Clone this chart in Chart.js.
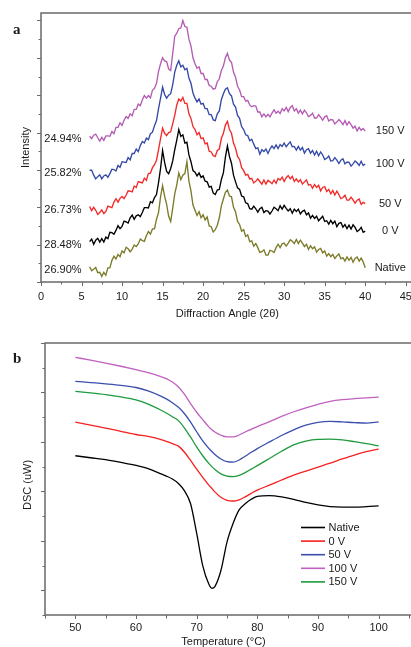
<!DOCTYPE html>
<html><head><meta charset="utf-8">
<script src="https://cdn.jsdelivr.net/npm/chart.js@4.4.1/dist/chart.umd.min.js"></script>
<style>
html,body{margin:0;padding:0;background:#fff;overflow:hidden;width:411px;height:647px;}
#wa{position:absolute;left:0;top:0;width:420px;height:325px;}
#wb{position:absolute;left:0;top:325px;width:420px;height:322px;}
</style></head><body>
<div id="wa"><canvas id="ca" width="420" height="325"></canvas></div>
<div id="wb"><canvas id="cb" width="420" height="322"></canvas></div>
<script>
// ---------- (a) XRD ----------
const angles = [6,6.25,6.5,6.75,7,7.25,7.5,7.75,8,8.25,8.5,8.75,9,9.25,9.5,9.75,10,10.25,10.5,10.75,11,11.25,11.5,11.75,12,12.25,12.5,12.75,13,13.25,13.5,13.75,14,14.25,14.5,14.75,15,15.25,15.5,15.75,16,16.25,16.5,16.75,17,17.25,17.5,17.75,18,18.25,18.5,18.75,19,19.25,19.5,19.75,20,20.25,20.5,20.75,21,21.25,21.5,21.75,22,22.25,22.5,22.75,23,23.25,23.5,23.75,24,24.25,24.5,24.75,25,25.25,25.5,25.75,26,26.25,26.5,26.75,27,27.25,27.5,27.75,28,28.25,28.5,28.75,29,29.25,29.5,29.75,30,30.25,30.5,30.75,31,31.25,31.5,31.75,32,32.25,32.5,32.75,33,33.25,33.5,33.75,34,34.25,34.5,34.75,35,35.25,35.5,35.75,36,36.25,36.5,36.75,37,37.25,37.5,37.75,38,38.25,38.5,38.75,39,39.25,39.5,39.75,40];

const xrdNative = [0.41,0.30,0.34,0.39,0.25,0.26,0.15,0.26,
0.18,0.38,0.38,0.58,0.69,0.62,0.74,0.68,
0.83,0.78,0.93,0.89,0.81,0.88,0.99,0.95,
1.02,1.15,1.11,1.09,1.24,1.35,1.28,1.42,
1.42,1.68,1.86,2.28,2.58,2.30,2.08,1.76,
1.62,1.98,2.36,2.60,2.92,2.74,2.86,2.90,
3.22,2.70,2.44,2.06,1.92,1.78,1.88,1.72,
1.80,1.66,1.74,1.50,1.48,1.34,1.40,1.52,
1.72,2.04,2.22,2.40,2.46,2.30,2.28,2.00,
1.88,1.62,1.54,1.36,1.40,1.22,1.26,1.08,
1.10,0.96,1.03,0.92,0.79,0.81,0.86,0.72,
0.72,0.85,0.83,0.79,0.92,1.01,0.92,1.02,
1.04,0.96,1.04,1.13,1.09,1.03,1.14,1.03,
1.12,1.04,0.95,1.01,0.87,0.97,0.89,0.94,
0.80,0.87,0.90,0.78,0.83,0.69,0.76,0.68,
0.74,0.63,0.70,0.75,0.62,0.65,0.56,0.67,
0.58,0.66,0.53,0.63,0.67,0.56,0.64,0.54,
0.38];

const xrd0V = [1.08,1.15,1.01,1.12,1.17,1.07,1.16,1.07,
1.20,1.16,1.33,1.32,1.28,1.38,1.51,1.43,
1.49,1.63,1.61,1.58,1.72,1.79,1.68,1.77,
1.80,1.75,1.86,1.99,1.99,1.98,2.15,2.12,
2.26,2.34,2.66,3.04,3.52,3.20,2.96,2.90,
3.04,3.24,3.54,3.80,4.08,3.90,3.94,3.72,
3.74,3.40,3.22,2.98,2.94,2.84,2.92,2.80,
2.84,2.70,2.68,2.54,2.56,2.38,2.34,2.46,
2.48,2.74,2.92,3.34,3.64,3.36,3.18,2.86,
2.68,2.52,2.48,2.30,2.28,2.12,2.10,1.96,
1.95,2.03,1.96,1.87,1.96,2.00,1.86,1.91,
1.90,1.82,1.90,2.00,1.96,1.91,2.04,1.95,
2.05,1.97,1.90,1.96,1.84,1.95,1.89,1.95,
1.82,1.89,1.92,1.80,1.85,1.71,1.78,1.70,
1.76,1.64,1.70,1.76,1.62,1.64,1.55,1.65,
1.56,1.63,1.48,1.57,1.59,1.47,1.54,1.43,
1.52,1.42,1.53,1.46,1.35,1.39,1.46,1.33,
1.36];

const xrd50V = [2.02,1.91,2.00,1.92,1.81,1.86,1.93,1.83,
1.89,2.03,2.01,1.99,2.14,2.23,2.14,2.24,
2.29,2.23,2.33,2.44,2.43,2.41,2.57,2.53,
2.69,2.67,2.65,2.78,2.72,2.90,2.91,3.06,
3.14,3.26,3.54,3.84,4.12,3.98,3.92,4.00,
4.02,4.24,4.46,4.74,4.90,4.84,4.94,4.78,
4.78,4.50,4.38,4.16,4.08,3.94,4.00,3.84,
3.86,3.70,3.72,3.50,3.48,3.38,3.36,3.52,
3.56,3.84,3.98,4.20,4.30,4.08,3.98,3.72,
3.58,3.36,3.28,3.06,2.98,2.86,2.88,2.76,
2.77,2.65,2.70,2.76,2.69,2.62,2.73,2.62,
2.72,2.68,2.63,2.73,2.64,2.77,2.73,2.81,
2.69,2.79,2.85,2.76,2.83,2.69,2.76,2.68,
2.74,2.62,2.68,2.73,2.59,2.61,2.51,2.61,
2.53,2.59,2.44,2.53,2.55,2.42,2.48,2.36,
2.45,2.33,2.43,2.34,2.23,2.26,2.32,2.19,
2.19,2.27,2.20,2.11,2.19,2.22,2.08,2.13,
2.10];

const xrd100V = [2.99,2.99,2.86,2.76,2.82,2.87,2.76,2.84,
2.87,2.80,2.90,3.02,3.01,2.97,3.12,3.07,
3.22,3.21,3.20,3.33,3.27,3.44,3.44,3.56,
3.49,3.65,3.76,3.72,3.85,3.81,3.97,4.01,
4.18,4.32,4.64,4.92,5.22,5.02,4.92,5.00,
5.04,5.28,5.62,5.80,5.92,5.76,5.80,5.68,
5.72,5.46,5.32,5.06,4.92,4.82,4.90,4.76,
4.78,4.64,4.64,4.48,4.48,4.34,4.32,4.50,
4.58,4.88,5.04,5.16,5.20,5.04,4.98,4.76,
4.68,4.46,4.38,4.16,4.08,3.94,3.92,3.78,
3.82,3.69,3.57,3.59,3.42,3.54,3.49,3.56,
3.44,3.56,3.64,3.57,3.67,3.57,3.68,3.63,
3.72,3.62,3.69,3.75,3.62,3.63,3.53,3.63,
3.53,3.60,3.45,3.54,3.57,3.45,3.52,3.40,
3.50,3.38,3.48,3.40,3.28,3.31,3.37,3.24,
3.25,3.33,3.26,3.17,3.26,3.30,3.16,3.21,
3.20,3.10,3.16,3.24,3.19,3.12,3.23,3.12,
3.16];

const xrd150V = [3.90,3.84,3.93,3.96,3.86,3.77,3.87,3.79,
3.91,3.91,3.90,4.03,3.97,4.14,4.14,4.26,
4.19,4.33,4.43,4.38,4.50,4.45,4.62,4.62,
4.76,4.72,4.87,4.99,4.92,4.99,4.93,5.13,
5.18,5.32,5.64,5.84,6.00,5.92,5.90,5.70,
5.66,6.12,6.58,6.66,6.78,6.80,7.00,6.84,
6.82,6.50,6.32,6.00,5.84,5.72,5.76,5.58,
5.58,5.42,5.42,5.26,5.24,5.16,5.18,5.36,
5.44,5.66,5.78,6.00,6.12,5.94,5.88,5.62,
5.48,5.24,5.14,4.96,4.96,4.84,4.86,4.74,
4.69,4.72,4.71,4.55,4.55,4.42,4.50,4.42,
4.49,4.42,4.52,4.61,4.52,4.57,4.51,4.64,
4.58,4.67,4.56,4.67,4.72,4.58,4.64,4.52,
4.60,4.50,4.60,4.53,4.43,4.46,4.52,4.39,
4.39,4.48,4.41,4.33,4.42,4.45,4.31,4.35,
4.34,4.23,4.28,4.35,4.29,4.21,4.32,4.20,
4.29,4.21,4.12,4.17,4.04,4.14,4.06,4.11,
4.04];

const xrdLabels = ['Native', '0 V', '50 V', '100 V', '150 V'];
const crystallinity = ['26.90%', '28.48%', '26.73%', '25.82%', '24.94%'];
const xTicksA = [0, 5, 10, 15, 20, 25, 30, 35, 40, 45];
const yTicksA = [0, 1, 2, 3, 4, 5, 6, 7];

// ---------- (b) DSC ----------
const temps = [50,52.5,55,57.5,60,62,64,65,66,67,68,69,70,71,72,72.5,73,74,75,76,77,78,79,80,82,84,86,88,90,92,94,96,98,100];
const dscNative = [6.44,6.36,6.28,6.17,6.05,5.92,5.72,5.62,5.50,5.32,5.02,4.50,3.31,2.00,1.25,1.08,1.15,1.80,2.95,3.70,4.25,4.50,4.68,4.80,4.83,4.78,4.68,4.55,4.45,4.38,4.36,4.36,4.38,4.41];
const dsc0V = [7.80,7.68,7.56,7.43,7.30,7.22,7.10,7.02,6.93,6.83,6.58,6.25,5.90,5.57,5.25,5.12,4.98,4.76,4.64,4.61,4.66,4.78,4.92,5.05,5.25,5.46,5.66,5.82,5.98,6.14,6.31,6.47,6.61,6.71];
const dsc50V = [9.45,9.40,9.35,9.29,9.20,9.06,8.86,8.74,8.58,8.40,8.14,7.80,7.41,7.04,6.74,6.61,6.49,6.31,6.20,6.18,6.27,6.42,6.58,6.73,7.00,7.26,7.49,7.68,7.79,7.83,7.81,7.78,7.76,7.81];
const dsc100V = [10.42,10.31,10.19,10.06,9.92,9.80,9.65,9.56,9.42,9.22,8.92,8.55,8.20,7.90,7.61,7.49,7.40,7.27,7.20,7.20,7.28,7.40,7.51,7.62,7.82,8.03,8.22,8.38,8.52,8.64,8.71,8.75,8.78,8.81];
const dsc150V = [9.04,8.98,8.91,8.82,8.70,8.53,8.30,8.17,8.02,7.86,7.56,7.19,6.80,6.44,6.13,6.00,5.89,5.71,5.62,5.60,5.65,5.76,5.90,6.04,6.33,6.62,6.88,7.03,7.10,7.11,7.08,7.01,6.93,6.84];
const dscLabels = ['Native', '0 V', '50 V', '100 V', '150 V'];
const xTicksB = [50, 60, 70, 80, 90, 100];
const xMinorB = [45, 55, 65, 75, 85, 95, 105];
const yMajorB = [1, 3, 5, 7, 9, 11];
const yMinorB = [0, 2, 4, 6, 8, 10];

// ---------- styling ----------
const FONT = "'Liberation Sans', Arial, sans-serif";
const TXT = '#1a1a1a';
const AXIS = '#6a6a6a';
const xrdColors = ['#7b7b2a', '#000000', '#f42a2a', '#3549a6', '#b45cb4'];
const dscColors = ['#000000', '#f52020', '#3a4fae', '#c060c0', '#1f9a3e'];

function mids(arr) { const m = []; for (let i = 0; i < arr.length - 1; i++) m.push((arr[i] + arr[i + 1]) / 2); return m; }

function drawTicks(ctx, scale, vals, len, horizontal, base) {
  ctx.beginPath();
  for (const v of vals) {
    const p = Math.round(scale.getPixelForValue(v)) + 0.5;
    if (horizontal) { ctx.moveTo(p, base); ctx.lineTo(p, base + len); }
    else { ctx.moveTo(base, p); ctx.lineTo(base - len, p); }
  }
  ctx.stroke();
}

function framePlugin(cfg) {
  return {
    id: 'frame_' + cfg.name,
    afterDraw(chart) {
      const { ctx, chartArea: ca, scales: { x, y } } = chart;
      ctx.save();
      ctx.strokeStyle = AXIS;
      ctx.lineWidth = 1.5;
      ctx.strokeRect(ca.left, ca.top, ca.right - ca.left, ca.bottom - ca.top);
      ctx.lineWidth = 1;
      drawTicks(ctx, x, cfg.xMajor, 4, true, ca.bottom);
      drawTicks(ctx, x, cfg.xMinor, cfg.xMinorLen, true, ca.bottom);
      drawTicks(ctx, y, cfg.yMajor, 4, false, ca.left);
      drawTicks(ctx, y, cfg.yMinor, 2.5, false, ca.left);
      ctx.fillStyle = TXT;
      ctx.font = '11px ' + FONT;
      ctx.textAlign = 'center';
      ctx.textBaseline = 'middle';
      ctx.fillText(cfg.xTitle, (ca.left + ca.right) / 2 + cfg.xTitleDx, cfg.xTitleY);
      ctx.save();
      ctx.translate(cfg.yTitleX, (ca.top + ca.bottom) / 2 + cfg.yTitleDy);
      ctx.rotate(-Math.PI / 2);
      ctx.fillText(cfg.yTitle, 0, 0);
      ctx.restore();
      ctx.font = 'bold 15px "Liberation Serif", "DejaVu Serif", serif';
      ctx.textAlign = 'left';
      ctx.textBaseline = 'alphabetic';
      ctx.fillText(cfg.letter, cfg.letterX, cfg.letterY);
      if (cfg.extra) cfg.extra(chart, ctx, ca, x, y);
      ctx.restore();
    }
  };
}

// ---------- chart a ----------
const xrdSeries = [xrdNative, xrd0V, xrd50V, xrd100V, xrd150V];
new Chart(document.getElementById('ca'), {
  type: 'line',
  data: {
    datasets: xrdSeries.map((s, i) => ({
      label: xrdLabels[i],
      data: angles.map((a, j) => ({ x: a, y: s[j] })),
      borderColor: xrdColors[i],
      borderWidth: 1.35,
      pointRadius: 0,
      tension: 0,
      fill: false
    }))
  },
  options: {
    responsive: false, animation: false, events: [],
    layout: { padding: { top: 13, right: 6, left: 0, bottom: 0 } },
    plugins: { legend: { display: false }, tooltip: { enabled: false } },
    scales: {
      x: {
        type: 'linear', min: 0, max: 46,
        grid: { display: false, drawTicks: false, tickLength: 0 },
        border: { display: false },
        afterBuildTicks: s => { s.ticks = xTicksA.map(v => ({ value: v })); },
        ticks: { font: { family: FONT, size: 11 }, color: TXT, padding: 8, maxRotation: 0, autoSkip: false },
        afterFit: s => { s.height = 43; }
      },
      y: {
        min: 0, max: 7.2,
        grid: { display: false, drawTicks: false },
        border: { display: false },
        ticks: { display: false },
        afterFit: s => { s.width = 41; }
      }
    }
  },
  plugins: [framePlugin({
    name: 'a', xMajor: xTicksA, xMinor: mids(xTicksA), xMinorLen: 2.5,
    yMajor: yTicksA, yMinor: mids(yTicksA),
    xTitle: 'Diffraction Angle (2θ)', xTitleY: 314, xTitleDx: 0,
    yTitle: 'Intensity', yTitleX: 26, yTitleDy: 0,
    letter: 'a', letterX: 13, letterY: 34,
    extra(chart, ctx, ca, x, y) {
      ctx.font = '11px ' + FONT;
      ctx.fillStyle = TXT;
      ctx.textBaseline = 'middle';
      const last = angles.length - 1;
      xrdSeries.forEach((s, i) => {
        ctx.textAlign = 'right';
        ctx.fillText(crystallinity[i], x.getPixelForValue(angles[0]) - 8, y.getPixelForValue(s[0]) + 3);
        ctx.textAlign = 'center';
        ctx.fillText(xrdLabels[i], x.getPixelForValue(angles[last]) + 25, y.getPixelForValue(s[last]));
      });
    }
  })]
});

// ---------- chart b ----------
const dscSeries = [dscNative, dsc0V, dsc50V, dsc100V, dsc150V];
new Chart(document.getElementById('cb'), {
  type: 'line',
  data: {
    datasets: dscSeries.map((s, i) => ({
      label: dscLabels[i],
      data: temps.map((t, j) => ({ x: t, y: s[j] })),
      borderColor: dscColors[i],
      borderWidth: 1.3,
      pointRadius: 0,
      cubicInterpolationMode: 'monotone',
      fill: false
    }))
  },
  options: {
    responsive: false, animation: false, events: [],
    layout: { padding: { top: 18, right: 8, left: 0, bottom: 0 } },
    plugins: { legend: { display: false }, tooltip: { enabled: false } },
    scales: {
      x: {
        type: 'linear', min: 45, max: 105.5,
        grid: { display: false, drawTicks: false, tickLength: 0 },
        border: { display: false },
        afterBuildTicks: s => { s.ticks = xTicksB.map(v => ({ value: v })); },
        ticks: { font: { family: FONT, size: 11 }, color: TXT, padding: 6, maxRotation: 0, autoSkip: false },
        afterFit: s => { s.height = 32; }
      },
      y: {
        min: 0, max: 11,
        grid: { display: false, drawTicks: false },
        border: { display: false },
        ticks: { display: false },
        afterFit: s => { s.width = 45; }
      }
    }
  },
  plugins: [framePlugin({
    name: 'b', xMajor: xTicksB, xMinor: xMinorB, xMinorLen: 3.5,
    yMajor: yMajorB, yMinor: yMinorB,
    xTitle: 'Temperature (°C)', xTitleY: 316.5, xTitleDx: -5,
    yTitle: 'DSC (uW)', yTitleX: 27.5, yTitleDy: 6,
    letter: 'b', letterX: 13, letterY: 37.5,
    extra(chart, ctx, ca, x, y) {
      ctx.font = '11px ' + FONT;
      ctx.textAlign = 'left';
      ctx.textBaseline = 'middle';
      const lx = ca.right - 111, ly = ca.top + 184.5;
      dscLabels.forEach((lab, i) => {
        const yy = ly + i * 13.6;
        ctx.strokeStyle = dscColors[i];
        ctx.lineWidth = 1.6;
        ctx.beginPath(); ctx.moveTo(lx, yy); ctx.lineTo(lx + 24, yy); ctx.stroke();
        ctx.fillStyle = TXT;
        ctx.fillText(lab, lx + 27.5, yy + 0.5);
      });
    }
  })]
});
</script>
</body></html>
